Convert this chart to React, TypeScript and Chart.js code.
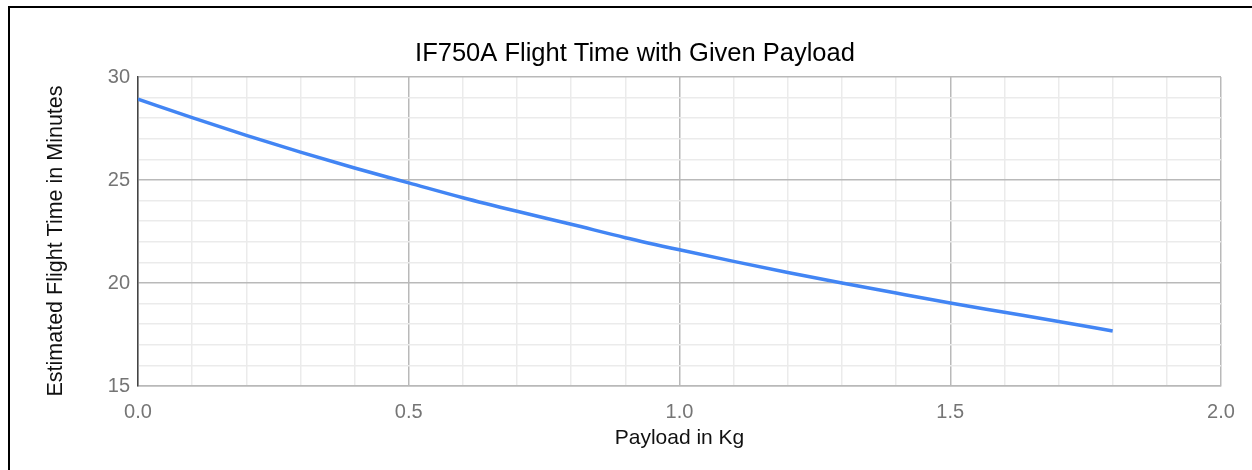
import React, { useEffect, useRef } from "react";
import { Chart, registerables } from "chart.js";

Chart.register(...registerables);

const chartTitle = "IF750A Flight Time with Given Payload";
const xAxisTitle = "Payload in Kg";
const yAxisTitle = "Estimated Flight Time in Minutes";
const payloadKg = [0, 0.1, 0.2, 0.3, 0.4, 0.5, 0.6, 0.7, 0.8, 0.9, 1.0, 1.1, 1.2, 1.3, 1.4, 1.5, 1.6, 1.7, 1.8];
const flightMinutes = [28.92, 28.03, 27.17, 26.35, 25.58, 24.86, 24.14, 23.48, 22.85, 22.2, 21.61, 21.05, 20.51, 20.0, 19.51, 19.03, 18.58, 18.13, 17.67];
const xMin = 0;
const xMax = 2;
const xStep = 0.1;
const yMin = 15;
const yMax = 30;
const yStep = 1;

const FONT = "Arial, 'Liberation Sans', sans-serif";
const MAJOR = "#b9b9b9";
const MINOR = "#ebebeb";

const yTitlePlugin = {
  id: "yTitleOffset",
  afterDraw(chart: any) {
    const { ctx, chartArea } = chart;
    ctx.save();
    ctx.translate(56.5, (chartArea.top + chartArea.bottom) / 2 + 9.5);
    ctx.rotate(-Math.PI / 2);
    ctx.font = `21.5px ${FONT}`;
    ctx.fillStyle = "#111";
    ctx.textAlign = "center";
    ctx.textBaseline = "middle";
    ctx.fillText(yAxisTitle, 0, 0);
    ctx.restore();
  },
};

export default function App() {
  const canvasRef = useRef<HTMLCanvasElement | null>(null);

  useEffect(() => {
    const canvas = canvasRef.current;
    if (!canvas) return;
    const isMajorX = (v: number) => Math.abs(v * 2 - Math.round(v * 2)) < 1e-6;
    const isMajorY = (v: number) => Math.abs(v / 5 - Math.round(v / 5)) < 1e-6;
    const chart = new Chart(canvas, {
      type: "line",
      data: {
        datasets: [
          {
            data: payloadKg.map((x, i) => ({ x, y: flightMinutes[i] })),
            borderColor: "#4285f4",
            backgroundColor: "#4285f4",
            borderWidth: 3.5,
            pointRadius: 0,
            cubicInterpolationMode: "monotone",
            fill: false,
          },
        ],
      },
      plugins: [yTitlePlugin],
      options: {
        responsive: false,
        animation: false,
        layout: { padding: { left: 49, right: 31, top: 0, bottom: 0 } },
        plugins: {
          legend: { display: false },
          tooltip: { enabled: false },
          title: {
            display: true,
            text: chartTitle,
            color: "#000",
            font: { family: FONT, size: 25.5, weight: "normal" },
            padding: { top: 39, bottom: 7.4 },
          },
        },
        scales: {
          x: {
            type: "linear",
            min: xMin,
            max: xMax,
            afterFit: (scale: any) => {
              scale.height = 84;
            },
            ticks: {
              stepSize: xStep,
              autoSkip: false,
              maxRotation: 0,
              padding: 14,
              color: "#757575",
              font: { family: FONT, size: 20 },
              callback: (v: any) => (isMajorX(Number(v)) ? Number(v).toFixed(1) : ""),
            },
            grid: {
              drawTicks: false,
              color: (ctx: any) => (isMajorX(ctx.tick.value) ? MAJOR : MINOR),
              lineWidth: 1.5,
            },
            border: { display: true, color: MAJOR, width: 1.5 },
            title: {
              display: true,
              text: xAxisTitle,
              color: "#111",
              font: { family: FONT, size: 21 },
              padding: { top: 0, bottom: 19.5 },
            },
          },
          y: {
            type: "linear",
            min: yMin,
            max: yMax,
            afterFit: (scale: any) => {
              scale.width = 89;
            },
            ticks: {
              stepSize: yStep,
              autoSkip: false,
              padding: 8,
              color: "#757575",
              font: { family: FONT, size: 20 },
              callback: (v: any) => (isMajorY(Number(v)) ? String(Math.round(Number(v))) : ""),
            },
            grid: {
              drawTicks: false,
              color: (ctx: any) => (isMajorY(ctx.tick.value) ? MAJOR : MINOR),
              lineWidth: 1.5,
            },
            border: { display: true, color: "#444", width: 1.5 },
            title: { display: false },
          },
        },
      },
    } as any);
    return () => chart.destroy();
  }, []);

  return (
    <div style={{ position: "absolute", left: 0, top: 0, width: 1252, height: 470, background: "#fff", overflow: "hidden" }}>
      <canvas ref={canvasRef} width={1252} height={470} style={{ position: "absolute", left: 0, top: 0, width: 1252, height: 470 }} />
      <div
        style={{
          position: "absolute",
          left: 8,
          top: 6,
          width: 1300,
          height: 500,
          borderLeft: "2px solid #000",
          borderTop: "2px solid #000",
          pointerEvents: "none",
        }}
      />
    </div>
  );
}
